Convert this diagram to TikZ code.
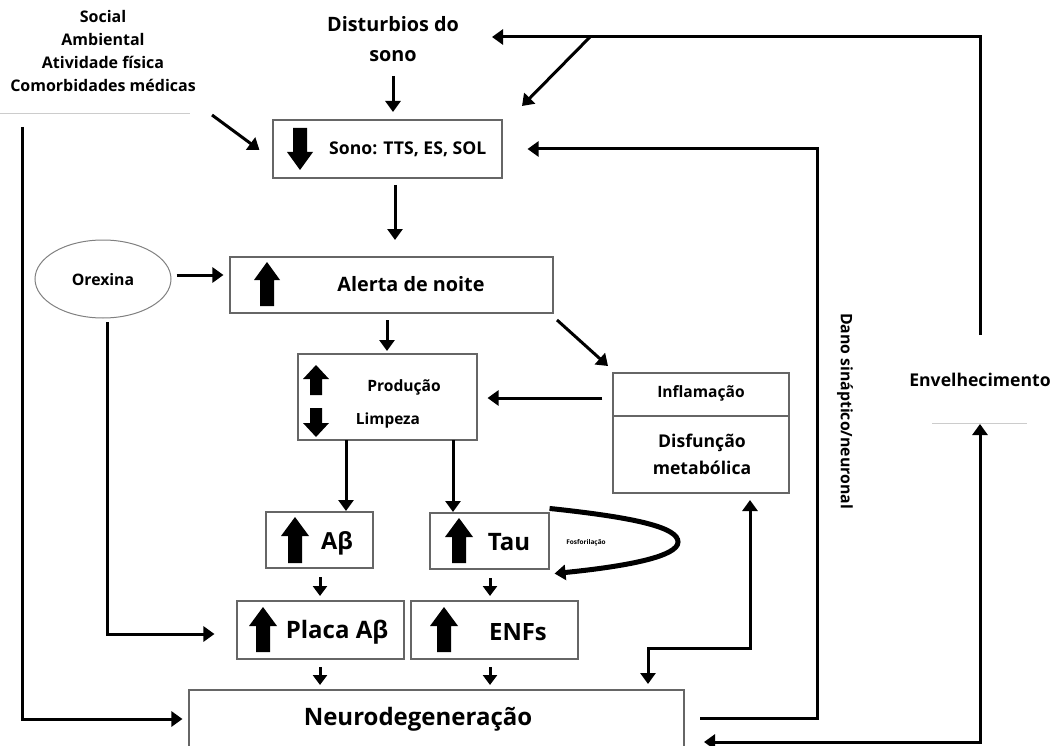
\documentclass[tikz,border=0pt]{standalone}
\usepackage{fontspec}
\setmainfont{Open Sans}
\usetikzlibrary{arrows.meta,calc,shapes.geometric}
\newcommand\blkup[6]{\fill ({#1-#4},#3) -- ({#1-#4},{#2+#6}) -- ({#1-#5},{#2+#6}) -- (#1,#2) -- ({#1+#5},{#2+#6}) -- ({#1+#4},{#2+#6}) -- ({#1+#4},#3) -- cycle;}
\newcommand\blkdown[6]{\fill ({#1-#4},#3) -- ({#1-#4},{#2-#6}) -- ({#1-#5},{#2-#6}) -- (#1,#2) -- ({#1+#5},{#2-#6}) -- ({#1+#4},{#2-#6}) -- ({#1+#4},#3) -- cycle;}
\tikzset{
  box/.style={draw=black!60, line width=1.1pt, minimum width=#1, inner sep=0pt},
  arr/.style={line width=3pt, -{Triangle[width=15pt,length=11pt]}},
  sarr/.style={line width=3pt, -{Triangle[width=14pt,length=10pt]}},
  dbl/.style={line width=3pt, {Triangle[width=15pt,length=11pt]}-{Triangle[width=15pt,length=11pt]}},
  txt/.style={font=\bfseries\fontsize{#1}{#1}\selectfont, inner sep=0pt},
}
\begin{document}
\begin{tikzpicture}[x=1pt,y=-1pt]
\useasboundingbox (0,0) rectangle (1057,746);
\clip (0,0) rectangle (1057,746);
% faint lines
\draw[black!20, line width=0.6pt] (0,113) -- (190,113);
\draw[black!20, line width=0.6pt] (932,423) -- (1027,423);
% texts
\node[font=\bfseries\fontsize{16}{23}\selectfont, align=center, inner sep=0pt] (soc) at (103,51) {Social\\Ambiental\\Atividade física\\Comorbidades médicas};
\node[font=\bfseries\fontsize{19.8}{30}\selectfont, align=center, inner sep=0pt] (dist) at (393,39) {Disturbios do\\sono};
\node[txt=17.6] (env) at (980,380) {Envelhecimento};
\node[txt=15.8, rotate=-90] (dano) at (845,411) {Dano sináptico/neuronal};
% boxes
\node[box=229pt, minimum height=58pt] (sono) at (387.5,149) {};
\node[txt=17.6, anchor=west] (sonot) at (329,149) {Sono: TTS, ES, SOL};
\blkdown{300}{170}{128}{7}{13}{18}
\node[box=323pt, minimum height=56pt] (alerta) at (391.5,285) {};
\node[txt=19.8] (alertat) at (411,284) {Alerta de noite};
\blkup{267}{262}{306}{7}{13}{18}
\node[draw=black!50, line width=1pt, minimum width=136pt, minimum height=78pt, ellipse, inner sep=0pt] (orex) at (103,279) {};
\node[txt=15.8] (orext) at (103,280) {Orexina};
\node[box=179pt, minimum height=86pt] (prod) at (387.5,397) {};
\node[txt=15.6] (prodt) at (404,387) {Produção};
\node[txt=15.4] (limp) at (388,420) {Limpeza};
\blkup{316}{365}{395}{6}{13}{14}
\blkdown{316}{437}{408}{6}{13}{14}
\node[box=176pt, minimum height=43pt] (infl) at (701,394.5) {};
\node[txt=15.6] (inflt) at (701,393) {Inflamação};
\node[box=176pt, minimum height=77pt] (disf) at (701,454.5) {};
\node[font=\bfseries\fontsize{17.6}{27}\selectfont, align=center, inner sep=0pt] (disft) at (702,454) {Disfunção\\metabólica};
\node[box=107pt, minimum height=56pt] (ab) at (319.5,540) {};
\node[txt=23.5] (abt) at (337,543) {Aβ};
\blkup{295}{517}{563}{7}{14}{19}
\node[box=119pt, minimum height=56pt] (tau) at (489.5,541) {};
\node[txt=24] (taut) at (509,542) {Tau};
\blkup{459}{518}{563}{7}{14}{19}
\node[box=167pt, minimum height=58pt] (placa) at (320.5,630) {};
\node[txt=24] (placat) at (337,632) {Placa Aβ};
\blkup{263}{607}{652}{7}{14}{19}
\node[box=167pt, minimum height=58pt] (enfs) at (494.5,630) {};
\node[txt=23.8] (enfst) at (518,632) {ENFs};
\blkup{444}{607}{652}{7}{14}{19}
\node[box=495pt, minimum height=70pt] (neuro) at (436.5,725) {};
\node[txt=24] (neurot) at (418,719) {Neurodegeneração};
% phosphorylation loop
\node[font=\bfseries\fontsize{6.5}{6.5}\selectfont, inner sep=0pt] (fosf) at (586,543) {Fosforilação};
\draw[line width=5pt, -{Triangle[width=15pt,length=11pt]}] ([yshift=4pt]tau.north east) .. controls (640,518) and (678,528) .. (678,542) .. controls (678,556) and (630,566) .. ([yshift=-4pt,xshift=5pt]tau.south east);
% connectors
\draw[arr] (dist.south |- 0,76) -- (dist.south |- 0,112);
\draw[arr] (212,115) -- ([xshift=-13pt,yshift=-1pt]sono.west);
\draw[arr] (395,185) -- (395,240);
\draw[arr] ([xshift=5pt]orex.east |- 0,275) -- ([xshift=-6pt]alerta.west |- 0,275);
\draw[arr] (387,320) -- (387,351);
\draw[arr] (557,320) -- (608,366);
\draw[arr] ([xshift=-10pt]infl.west |- 0,398) -- ([xshift=10pt]prod.east |- 0,398);
\draw[arr] (346,440) -- (346,511);
\draw[arr] (453,440) -- (453,512);
\draw[sarr] (320,577) -- (320,596);
\draw[sarr] (490,578) -- (490,596);
\draw[sarr] (320,667) -- (320,685);
\draw[sarr] (490,667) -- (490,685);
\draw[dbl] (648,684) -- (648,648) -- (750,648) -- (750,500);
\draw[arr] (700,718) -- (817,718) -- (817,149) -- ([xshift=25pt]sono.east |- 0,149);
\draw[dbl] (704,742) -- (980,742) -- (980,424);
\draw[arr] (980,335) -- (980,37) -- (492,37);
\draw[arr] (590,37) -- (522,106);
\draw[arr] (22,127) -- (22,719) -- ([xshift=-6pt]neuro.west |- 0,719);
\draw[arr] (107,322) -- (107,634) -- ([xshift=-22pt]placa.west |- 0,634);
\end{tikzpicture}
\end{document}
